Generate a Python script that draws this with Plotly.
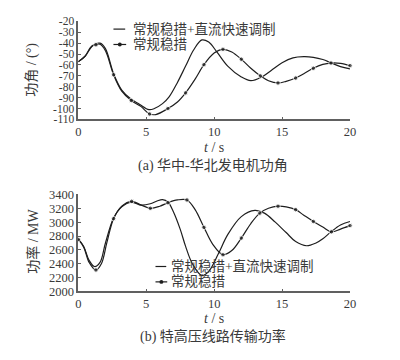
import plotly.graph_objects as go

# ---------------- data ----------------
# (a) generator power angle, deg
angA_t = [0, 0.5, 1.0, 1.6, 2.0, 2.6, 3.2, 3.9, 4.5, 5.2, 5.6, 6.2, 6.7, 7.3, 7.9, 8.5, 9.1, 9.6,
          10.2, 11.0, 12.0, 12.7, 13.5, 14.2, 15.0, 15.8, 16.6, 17.3, 18.0, 18.6, 19.3, 20.0]
angA_v = [-57, -52, -42.5, -40, -45, -68, -83, -91.5, -96, -101, -100, -95.5, -89, -76, -61, -46, -37, -39,
          -48, -61, -71, -74.4, -71, -65, -58, -53.5, -52.4, -53, -55, -58, -61.5, -63.5]

angB_t = [0, 0.5, 1.0, 1.3, 1.6, 2.0, 2.6, 3.2, 3.9, 4.6, 5.25, 5.7, 6.6, 7.3, 7.9, 8.6, 9.25, 10.0,
          10.65, 11.3, 12.0, 12.7, 13.4, 14.0, 14.7, 15.3, 16.0, 16.6, 17.3, 18.0, 18.6, 19.3, 20.0]
angB_v = [-57, -52, -43, -41.5, -41, -47, -69, -84, -92.6, -98, -105, -105.5, -100, -94, -85.6, -73, -59.7, -49,
          -45.6, -48, -54.7, -63, -70, -74.5, -76.5, -75, -72, -68, -63, -59.5, -58.2, -58.5, -60.6]
angB_mark_t = [1.3, 2.6, 3.9, 5.25, 6.6, 7.9, 9.25, 10.65, 12.0, 13.4, 14.7, 16.0, 17.3, 18.6, 20.0]

# (b) UHV line transmitted power, MW
powA_t = [0, 0.4, 0.8, 1.2, 1.6, 2.0, 2.6, 3.2, 3.9, 4.65, 5.3, 5.8, 6.2, 6.6, 7.0, 7.5, 7.9, 8.4, 9.1, 9.6,
          10.3, 11.0, 12.0, 13.0, 13.7, 14.5, 15.3, 16.0, 16.8, 17.5, 18.0, 18.6, 19.3, 20.0]
powA_v = [2760, 2650, 2450, 2360, 2420, 2700, 3060, 3220, 3290, 3245, 3265, 3305, 3325, 3290, 3150, 2900, 2650, 2400, 2230, 2290,
          2540, 2820, 3080, 3170, 3130, 3000, 2850, 2720, 2660, 2700, 2760, 2860, 2960, 3010]

powB_t = [0, 0.4, 0.8, 1.3, 1.7, 2.1, 2.6, 3.2, 3.93, 4.6, 5.3, 6.0, 6.6, 7.3, 8.0, 8.6, 9.25, 9.9,
          10.65, 11.3, 12.0, 12.7, 13.36, 14.0, 14.7, 15.3, 16.0, 16.6, 17.3, 18.0, 18.63, 19.3, 20.0]
powB_v = [2750, 2640, 2420, 2310, 2400, 2700, 3050, 3230, 3300, 3250, 3200, 3230, 3280, 3320, 3320, 3180, 2925, 2680,
          2530, 2590, 2770, 2980, 3130, 3200, 3230, 3220, 3180, 3100, 3010, 2930, 2860, 2900, 2950]
powB_mark_t = [0, 1.3, 2.6, 3.93, 5.3, 6.6, 8.0, 9.25, 10.65, 12.0, 13.36, 14.7, 16.0, 17.3, 18.63, 20.0]

x_ticks = [0, 5, 10, 15, 20]
ang_ticks = [-20, -30, -40, -50, -60, -70, -80, -90, -100, -110]
ang_ticklabels = ["-20", "-30", "-40", "-50", "-60", "-70", "-80", "-90", "-100", "-110"]
pow_ticks = [3400, 3200, 3000, 2800, 2600, 2400, 2200, 2000]

name_A = "常规稳措+直流快速调制"
name_B = "常规稳措"
caption_a = "(a) 华中-华北发电机功角"
caption_b = "(b) 特高压线路传输功率"
ylabel_a = "功角 / (°)"
ylabel_b = "功率 / MW"
xlabel = "<i>t</i> / s"

# ---------------- style ----------------
W, H = 400, 360
FONT = "Liberation Serif, Noto Sans CJK SC, serif"
TXT = "#3a3a3a"
LINE = "#1e1e1e"
AX = "#606060"

def px(x):
    return x / W

def py(y):
    return 1 - y / H

fig = go.Figure()

def mark_sizes(ts, marks):
    return [4.5 if any(abs(t - m) < 1e-6 for m in marks) else 0 for t in ts]

# top panel
fig.add_trace(go.Scatter(x=angA_t, y=angA_v, mode="lines", line=dict(color=LINE, width=1.2, shape="spline"),
                         xaxis="x", yaxis="y", showlegend=False, cliponaxis=False))
fig.add_trace(go.Scatter(x=angB_t, y=angB_v, mode="lines+markers",
                         line=dict(color=LINE, width=1.2, shape="spline"),
                         marker=dict(color=LINE, size=mark_sizes(angB_t, angB_mark_t), symbol="circle"),
                         xaxis="x", yaxis="y", showlegend=False, cliponaxis=False))
# bottom panel
fig.add_trace(go.Scatter(x=powA_t, y=powA_v, mode="lines", line=dict(color=LINE, width=1.2, shape="spline"),
                         xaxis="x2", yaxis="y2", showlegend=False, cliponaxis=False))
fig.add_trace(go.Scatter(x=powB_t, y=powB_v, mode="lines+markers",
                         line=dict(color=LINE, width=1.2, shape="spline"),
                         marker=dict(color=LINE, size=mark_sizes(powB_t, powB_mark_t), symbol="circle"),
                         xaxis="x2", yaxis="y2", showlegend=False, cliponaxis=False))

xdom = [px(77), px(355)]
def axis_common(fs):
    return dict(showline=True, linecolor=AX, linewidth=1.5, ticks="inside", ticklen=3, tickwidth=1,
                tickcolor=AX, showgrid=False, zeroline=False,
                tickfont=dict(family=FONT, size=fs, color=TXT))

fig.update_layout(
    width=W, height=H, margin=dict(l=0, r=0, t=0, b=0),
    paper_bgcolor="white", plot_bgcolor="white",
    font=dict(family=FONT, size=14, color=TXT),
    xaxis=dict(domain=xdom, range=[0, 20], tickvals=x_ticks, anchor="y", **axis_common(12.5)),
    yaxis=dict(domain=[py(117), py(15)], range=[-110, -20], tickvals=ang_ticks, ticktext=ang_ticklabels,
               anchor="x", **axis_common(11.5)),
    xaxis2=dict(domain=xdom, range=[0, 20], tickvals=x_ticks, anchor="y2", **axis_common(12.5)),
    yaxis2=dict(domain=[py(296), py(195)], range=[2000, 3400], tickvals=pow_ticks, anchor="x2",
                **axis_common(12.5)),
)

ann = []
def text(x, y, s, xanchor="center", angle=0, size=14):
    ann.append(dict(x=px(x), y=py(y), xref="paper", yref="paper", text=s, showarrow=False,
                    xanchor=xanchor, yanchor="middle", textangle=angle,
                    font=dict(family=FONT, size=size, color=TXT)))

text(216, 146, xlabel)
text(215, 165, caption_a)
text(216, 324, xlabel)
text(215, 343, caption_b)
text(30, 65, ylabel_a, angle=-90)
text(30, 244, ylabel_b, angle=-90)

# legends (manual)
text(131, 23, name_A, xanchor="left", size=13.5)
text(131, 39, name_B, xanchor="left", size=13.5)
text(170, 270, name_A, xanchor="left", size=13.5)
text(170, 286, name_B, xanchor="left", size=13.5)

shapes = []
def leg(x0, x1, y, dot):
    shapes.append(dict(type="line", xref="paper", yref="paper", x0=px(x0), x1=px(x1), y0=py(y), y1=py(y),
                       line=dict(color=LINE, width=1.2)))
    if dot:
        c = (x0 + x1) / 2
        shapes.append(dict(type="circle", xref="paper", yref="paper", x0=px(c - 2), x1=px(c + 2),
                           y0=py(y + 2), y1=py(y - 2), fillcolor=LINE, line=dict(color=LINE, width=0)))

leg(113, 125, 23, False)
leg(113, 126, 39, True)
leg(156, 167, 270, False)
leg(156, 168, 286, True)

fig.update_layout(annotations=ann, shapes=shapes)
fig.write_html("out.html")
